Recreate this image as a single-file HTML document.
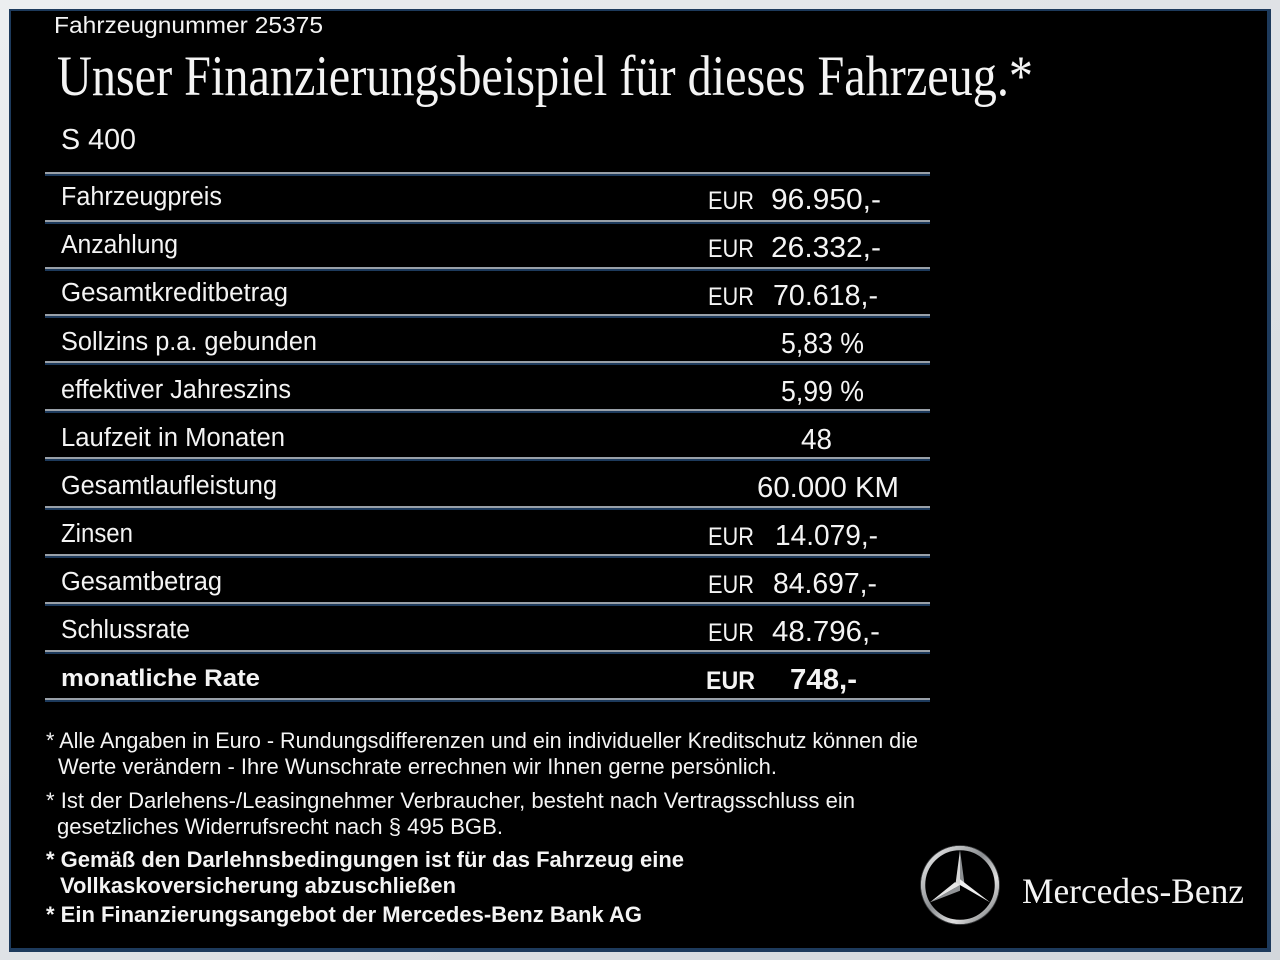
<!DOCTYPE html>
<html>
<head>
<meta charset="utf-8">
<style>
html,body{margin:0;padding:0;background:#e4e7ea;}
svg{display:block;}
.s{font-family:"Liberation Sans",Arial,sans-serif;fill:#f4f4f4;}
.f{font-family:"Liberation Serif","Times New Roman",serif;fill:#f4f4f4;}
</style>
</head>
<body>
<svg width="1280" height="960" viewBox="0 0 1280 960" xmlns="http://www.w3.org/2000/svg">
<defs>
<linearGradient id="bg" x1="0" y1="0" x2="1" y2="1">
<stop offset="0" stop-color="#eceef0"/>
<stop offset="1" stop-color="#d2d7dc"/>
</linearGradient>
<linearGradient id="ring" x1="0" y1="0" x2="1" y2="1">
<stop offset="0" stop-color="#f4f4f4"/>
<stop offset="0.45" stop-color="#8a8d90"/>
<stop offset="0.7" stop-color="#e0e0e0"/>
<stop offset="1" stop-color="#6a6d70"/>
</linearGradient>
</defs>
<rect x="0" y="0" width="1280" height="960" fill="url(#bg)"/>
<rect x="9" y="9" width="1262" height="943" fill="#1d3a5c"/>
<rect x="11" y="11" width="1256" height="937" fill="#000"/>

<text class="s" x="54" y="33" font-size="23.5" textLength="269" lengthAdjust="spacingAndGlyphs">Fahrzeugnummer  25375</text>
<text class="f" x="57" y="95" font-size="57" textLength="976" lengthAdjust="spacingAndGlyphs">Unser Finanzierungsbeispiel für dieses Fahrzeug.*</text>
<text class="s" x="61" y="149" font-size="29" textLength="75" lengthAdjust="spacingAndGlyphs">S 400</text>

<g>
<rect x="45" y="172" width="885" height="2" fill="#99a0a8"/><rect x="45" y="174" width="885" height="2" fill="#1d3a5c"/>
<rect x="45" y="220" width="885" height="2" fill="#99a0a8"/><rect x="45" y="222" width="885" height="2" fill="#1d3a5c"/>
<rect x="45" y="267" width="885" height="2" fill="#99a0a8"/><rect x="45" y="269" width="885" height="2" fill="#1d3a5c"/>
<rect x="45" y="314" width="885" height="2" fill="#99a0a8"/><rect x="45" y="316" width="885" height="2" fill="#1d3a5c"/>
<rect x="45" y="361" width="885" height="2" fill="#99a0a8"/><rect x="45" y="363" width="885" height="2" fill="#1d3a5c"/>
<rect x="45" y="409" width="885" height="2" fill="#99a0a8"/><rect x="45" y="411" width="885" height="2" fill="#1d3a5c"/>
<rect x="45" y="457" width="885" height="2" fill="#99a0a8"/><rect x="45" y="459" width="885" height="2" fill="#1d3a5c"/>
<rect x="45" y="506" width="885" height="2" fill="#99a0a8"/><rect x="45" y="508" width="885" height="2" fill="#1d3a5c"/>
<rect x="45" y="554" width="885" height="2" fill="#99a0a8"/><rect x="45" y="556" width="885" height="2" fill="#1d3a5c"/>
<rect x="45" y="602" width="885" height="2" fill="#99a0a8"/><rect x="45" y="604" width="885" height="2" fill="#1d3a5c"/>
<rect x="45" y="650" width="885" height="2" fill="#99a0a8"/><rect x="45" y="652" width="885" height="2" fill="#1d3a5c"/>
<rect x="45" y="698" width="885" height="2" fill="#99a0a8"/><rect x="45" y="700" width="885" height="2" fill="#1d3a5c"/>
</g>

<g font-size="25.5">
<text class="s" x="61" y="205" textLength="161" lengthAdjust="spacingAndGlyphs">Fahrzeugpreis</text>
<text class="s" x="61" y="253" textLength="117" lengthAdjust="spacingAndGlyphs">Anzahlung</text>
<text class="s" x="61" y="301" textLength="227" lengthAdjust="spacingAndGlyphs">Gesamtkreditbetrag</text>
<text class="s" x="61" y="350" textLength="256" lengthAdjust="spacingAndGlyphs">Sollzins p.a. gebunden</text>
<text class="s" x="61" y="398" textLength="230" lengthAdjust="spacingAndGlyphs">effektiver Jahreszins</text>
<text class="s" x="61" y="446" textLength="224" lengthAdjust="spacingAndGlyphs">Laufzeit in Monaten</text>
<text class="s" x="61" y="494" textLength="216" lengthAdjust="spacingAndGlyphs">Gesamtlaufleistung</text>
<text class="s" x="61" y="542" textLength="72" lengthAdjust="spacingAndGlyphs">Zinsen</text>
<text class="s" x="61" y="590" textLength="161" lengthAdjust="spacingAndGlyphs">Gesamtbetrag</text>
<text class="s" x="61" y="638" textLength="129" lengthAdjust="spacingAndGlyphs">Schlussrate</text>
<text class="s" x="61" y="686" font-size="24" font-weight="bold" textLength="199" lengthAdjust="spacingAndGlyphs">monatliche Rate</text>
</g>

<g font-size="25">
<text class="s" x="708" y="209" textLength="46" lengthAdjust="spacingAndGlyphs">EUR</text>
<text class="s" x="771" y="209" font-size="28.5" textLength="110" lengthAdjust="spacingAndGlyphs">96.950,-</text>
<text class="s" x="708" y="257" textLength="46" lengthAdjust="spacingAndGlyphs">EUR</text>
<text class="s" x="771" y="257" font-size="28.5" textLength="110" lengthAdjust="spacingAndGlyphs">26.332,-</text>
<text class="s" x="708" y="305" textLength="46" lengthAdjust="spacingAndGlyphs">EUR</text>
<text class="s" x="773" y="305" font-size="28.5" textLength="105" lengthAdjust="spacingAndGlyphs">70.618,-</text>
<text class="s" x="781" y="353" font-size="28.5" textLength="83" lengthAdjust="spacingAndGlyphs">5,83 %</text>
<text class="s" x="781" y="401" font-size="28.5" textLength="83" lengthAdjust="spacingAndGlyphs">5,99 %</text>
<text class="s" x="801" y="449" font-size="28.5" textLength="31" lengthAdjust="spacingAndGlyphs">48</text>
<text class="s" x="757" y="497" font-size="28.5" textLength="142" lengthAdjust="spacingAndGlyphs">60.000 KM</text>
<text class="s" x="708" y="545" textLength="46" lengthAdjust="spacingAndGlyphs">EUR</text>
<text class="s" x="775" y="545" font-size="28.5" textLength="103" lengthAdjust="spacingAndGlyphs">14.079,-</text>
<text class="s" x="708" y="593" textLength="46" lengthAdjust="spacingAndGlyphs">EUR</text>
<text class="s" x="773" y="593" font-size="28.5" textLength="104" lengthAdjust="spacingAndGlyphs">84.697,-</text>
<text class="s" x="708" y="641" textLength="46" lengthAdjust="spacingAndGlyphs">EUR</text>
<text class="s" x="772" y="641" font-size="28.5" textLength="108" lengthAdjust="spacingAndGlyphs">48.796,-</text>
<text class="s" x="706" y="689" font-weight="bold" textLength="49" lengthAdjust="spacingAndGlyphs">EUR</text>
<text class="s" x="790" y="689" font-size="28.5" font-weight="bold" textLength="67" lengthAdjust="spacingAndGlyphs">748,-</text>
</g>

<g font-size="22">
<text class="s" x="46" y="748" textLength="872" lengthAdjust="spacingAndGlyphs">* Alle Angaben in Euro - Rundungsdifferenzen und ein individueller Kreditschutz können die</text>
<text class="s" x="58" y="774" textLength="719" lengthAdjust="spacingAndGlyphs">Werte verändern - Ihre Wunschrate errechnen wir Ihnen gerne persönlich.</text>
<text class="s" x="46" y="808" textLength="809" lengthAdjust="spacingAndGlyphs">* Ist der Darlehens-/Leasingnehmer Verbraucher, besteht nach Vertragsschluss ein</text>
<text class="s" x="57" y="834" textLength="446" lengthAdjust="spacingAndGlyphs">gesetzliches  Widerrufsrecht nach § 495 BGB.</text>
<text class="s" x="46" y="867" font-weight="bold" textLength="638" lengthAdjust="spacingAndGlyphs">* Gemäß den Darlehnsbedingungen ist für das Fahrzeug eine</text>
<text class="s" x="60" y="893" font-weight="bold" textLength="396" lengthAdjust="spacingAndGlyphs">Vollkaskoversicherung abzuschließen</text>
<text class="s" x="46" y="922" font-weight="bold" textLength="596" lengthAdjust="spacingAndGlyphs">* Ein Finanzierungsangebot der Mercedes-Benz Bank AG</text>
</g>

<!-- Mercedes star -->
<g transform="translate(960,885)">
<circle cx="0" cy="0" r="37" fill="none" stroke="url(#ring)" stroke-width="4.5"/>
<circle cx="0" cy="0" r="39.5" fill="none" stroke="#3a3c3e" stroke-width="0.8"/>
<polygon points="0,-35 0,0 -5,2.9" fill="#d8d8d8"/>
<polygon points="0,-35 0,0 5,2.9" fill="#8c8f92"/>
<polygon points="30.3,17.5 0,0 0,-5.8" fill="#f0f0f0"/>
<polygon points="30.3,17.5 0,0 5,2.9" fill="#7a7d80"/>
<polygon points="-30.3,17.5 0,0 -5,-2.9" fill="#e6e6e6"/>
<polygon points="-30.3,17.5 0,0 0,5.8" fill="#909396"/>
</g>
<text class="f" x="1022" y="903" font-size="36" textLength="222" lengthAdjust="spacingAndGlyphs">Mercedes-Benz</text>
</svg>
</body>
</html>
